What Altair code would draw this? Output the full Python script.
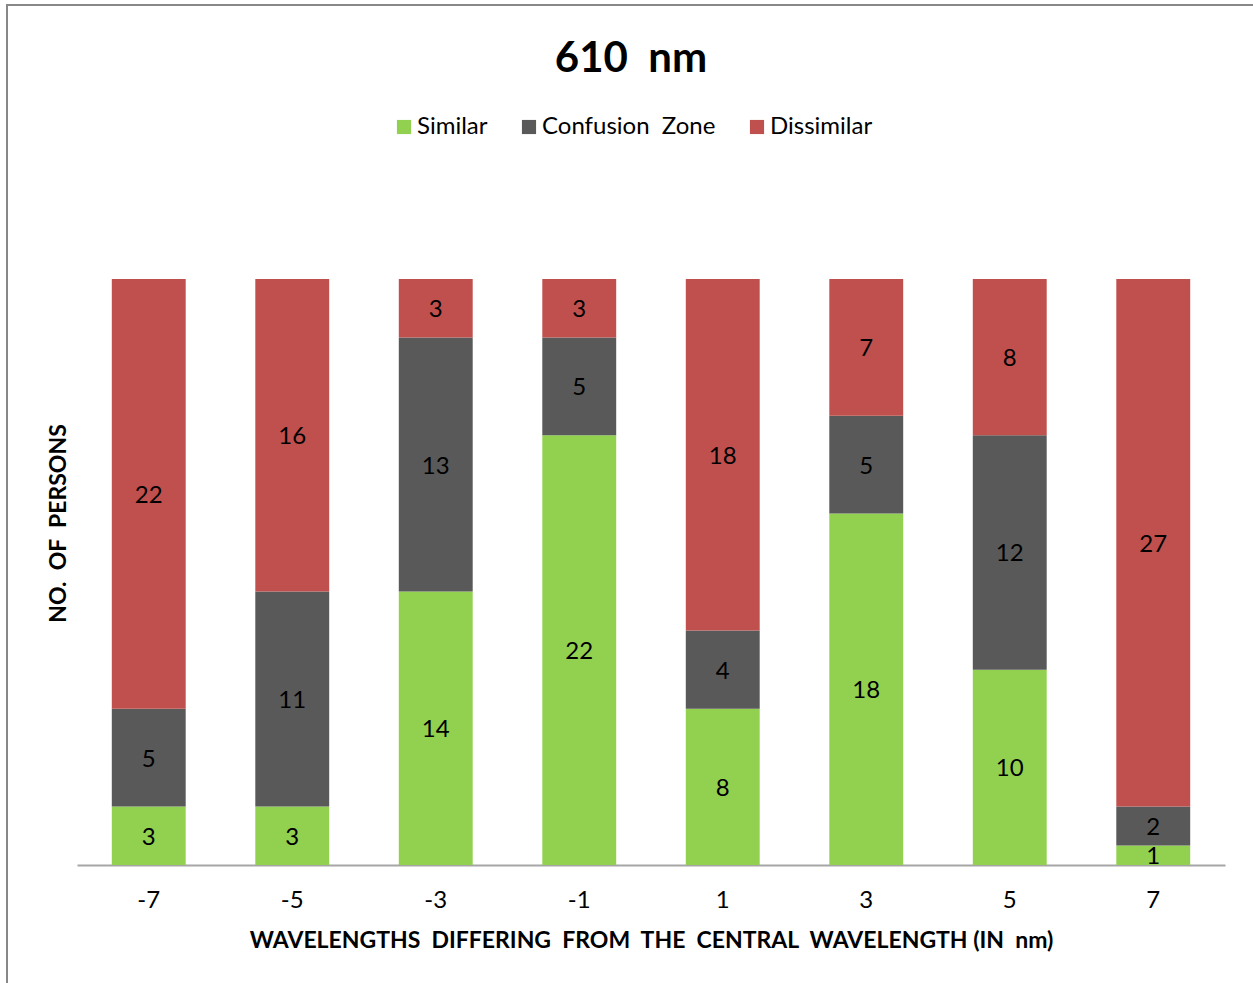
import altair as alt
import pandas as pd

NB = "\u00a0"

wavelengths = ["-7", "-5", "-3", "-1", "1", "3", "5", "7"]
similar = [3, 3, 14, 22, 8, 18, 10, 1]
confusion = [5, 11, 13, 5, 4, 5, 12, 2]
dissimilar = [22, 16, 3, 3, 18, 7, 8, 27]

cat_names = ["Similar", f"Confusion{NB}{NB}Zone", "Dissimilar"]
cat_colors = ["#92D050", "#595959", "#C0504D"]

rows = []
for i, w in enumerate(wavelengths):
    for k, (name, vals) in enumerate(zip(cat_names, [similar, confusion, dissimilar])):
        rows.append({"wl": w, "cat": name, "ord": k, "value": vals[i]})
df = pd.DataFrame(rows)

FONT = "Lato"

base = alt.Chart(df).transform_stack(
    stack="value", groupby=["wl"], sort=[alt.SortField("ord")], as_=["y0", "y1"]
).transform_calculate(mid="(datum.y0 + datum.y1) / 2")

x_enc = alt.X(
    "wl:N",
    sort=wavelengths,
    scale=alt.Scale(paddingInner=0.485, paddingOuter=0.2425),
    axis=alt.Axis(
        title=f"WAVELENGTHS{NB}{NB}DIFFERING{NB}{NB}FROM{NB}{NB}THE{NB}{NB}CENTRAL{NB}{NB}WAVELENGTH{NB}(IN{NB}{NB}nm)",
        labelAngle=0,
        labelFont=FONT,
        labelFontSize=24,
        labelColor="#000000",
        labelBaseline="middle",
        labelPadding=35,
        ticks=False,
        tickSize=0,
        domainColor="#A6A6A6",
        domainWidth=2,
        titleFont=FONT,
        titleFontSize=23,
        titleFontWeight="bold",
        titleColor="#000000",
        titleBaseline="middle",
        titleY=75,
    ),
)

bars = base.mark_bar().encode(
    x=x_enc,
    y=alt.Y(
        "y0:Q",
        scale=alt.Scale(domain=[0, 30]),
        axis=alt.Axis(
            title=f"NO.{NB}{NB}OF{NB}{NB}PERSONS",
            labels=False,
            ticks=False,
            domain=False,
            grid=False,
            titleFont=FONT,
            titleFontSize=23,
            titleFontWeight="bold",
            titleColor="#000000",
            titleAlign="center",
            titleBaseline="middle",
            titleX=-19,
            titleY=244,
        ),
    ),
    y2="y1:Q",
    color=alt.Color(
        "cat:N",
        scale=alt.Scale(domain=cat_names, range=cat_colors),
        legend=alt.Legend(
            title=None,
            orient="none",
            direction="horizontal",
            legendX=315,
            legendY=-164,
            padding=0,
            symbolType="square",
            symbolSize=200,
            symbolStrokeWidth=0,
            labelFont=FONT,
            labelFontSize=24,
            labelColor="#000000",
            labelOffset=1,
            labelLimit=400,
            columnPadding=29,
        ),
    ),
)

labels = base.mark_text(font=FONT, fontSize=24, color="#000000", baseline="middle", dy=2).encode(
    x=alt.X("wl:N", sort=wavelengths),
    y=alt.Y("mid:Q"),
    text="value:Q",
)

border_data = alt.Data(values=[{"a": 1}])
top_border = alt.Chart(border_data).mark_rule(color="#888888", strokeWidth=2).encode(
    x=alt.value(-70), x2=alt.value(1200), y=alt.value(-274)
)
left_border = alt.Chart(border_data).mark_rule(color="#888888", strokeWidth=2).encode(
    x=alt.value(-70), y=alt.value(-275), y2=alt.value(710)
)

chart = alt.layer(bars, labels, top_border, left_border).properties(
    width=1148,
    height=586,
    padding={"left": 77, "top": 279, "right": 28, "bottom": 118},
    autosize=alt.AutoSizeParams(type="none"),
    background="#FFFFFF",
    title=alt.TitleParams(
        text=f"610{NB}{NB}nm",
        font=FONT,
        fontSize=42,
        fontWeight="bold",
        color="#000000",
        anchor="middle",
        baseline="alphabetic",
        offset=-111,
        dx=-20,
    ),
).configure_view(stroke=None)

chart.save("out.html", embed_options={"renderer": "svg", "actions": False})
